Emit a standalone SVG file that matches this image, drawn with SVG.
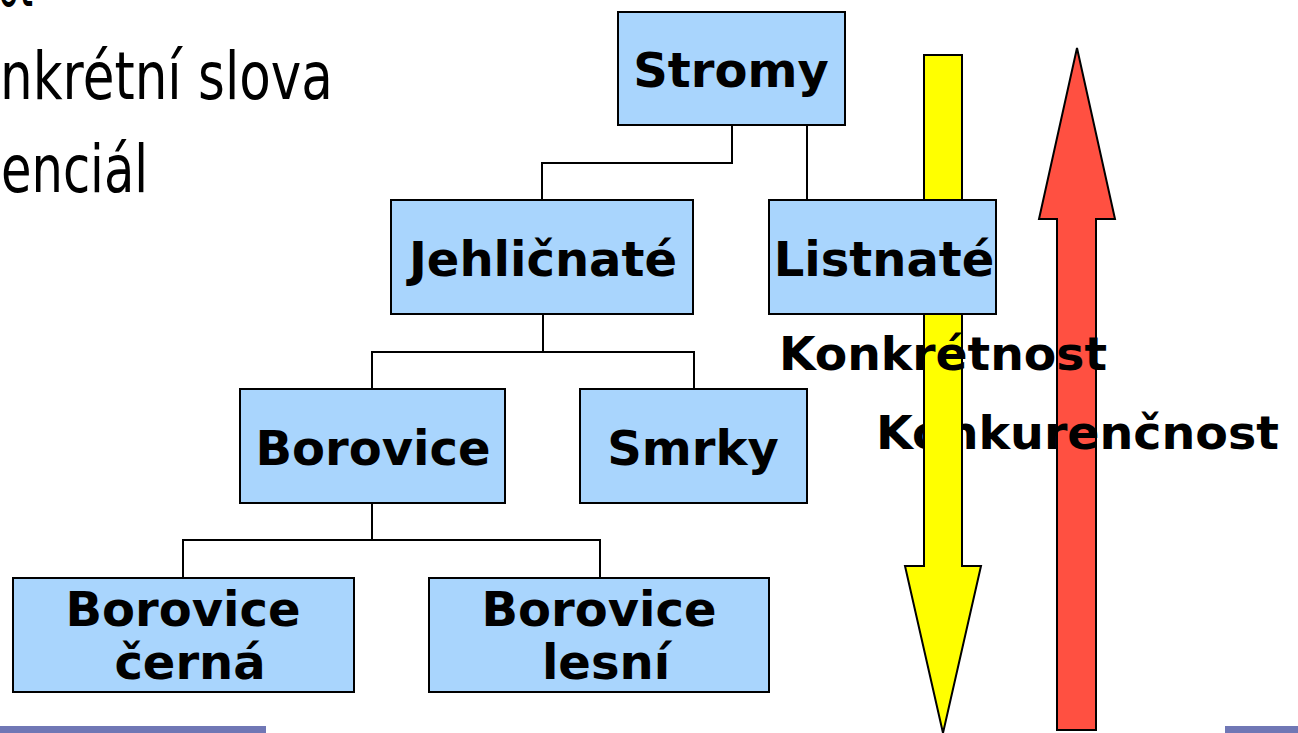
<svg xmlns="http://www.w3.org/2000/svg" width="1298" height="733" viewBox="0 0 1298 733">
<style>
.box{fill:#a9d5fd;stroke:#000;stroke-width:2}
.lbl{font-family:"DejaVu Sans","Verdana",sans-serif;font-weight:bold;font-size:48px;fill:#000;text-anchor:middle}
.body{font-family:"DejaVu Sans",sans-serif;font-size:66px;fill:#000}
.conn{fill:none;stroke:#000;stroke-width:2}
.big{font-family:"DejaVu Sans","Verdana",sans-serif;font-weight:bold;font-size:46px;fill:#000}
.arr{stroke:#000;stroke-width:2;stroke-linejoin:miter}
</style>
<rect width="1298" height="733" fill="#fff"/>
<g id="bullets">
<text class="body" x="-2" y="6" textLength="35" lengthAdjust="spacingAndGlyphs">ot</text>
<text class="body" x="0" y="99" textLength="333" lengthAdjust="spacingAndGlyphs">nkrétní slova</text>
<text class="body" x="1" y="192" textLength="147" lengthAdjust="spacingAndGlyphs">enciál</text>
</g>
<rect x="0" y="726" width="266" height="7" fill="#7077b5"/>
<rect x="1225" y="726" width="73" height="7" fill="#7077b5"/>
<g id="arrow-konkurencnost">
<polygon class="arr" points="1077,48 1115,219 1096,219 1096,730 1057,730 1057,219 1039,219" fill="#ff5041"/>
</g>
<text class="big" x="876" y="449" textLength="403" lengthAdjust="spacingAndGlyphs">Konkurenčnost</text>
<g id="arrow-konkretnost">
<polygon class="arr" points="924,55 962,55 962,566 981,566 943,733 905,566 924,566" fill="#ffff00"/>
</g>
<g id="connectors">
<path class="conn" d="M732,125 V163 H542 V200"/>
<path class="conn" d="M807,125 V200"/>
<path class="conn" d="M543,314 V352 M372,389 V352 H694 V389"/>
<path class="conn" d="M372,503 V540 M183,578 V540 H600 V578"/>
</g>
<g id="node-stromy">
<rect class="box" x="618" y="12" width="227" height="113"/>
<text class="lbl" x="731" y="87">Stromy</text>
</g>
<g id="node-jehlicnate">
<rect class="box" x="391" y="200" width="302" height="114"/>
<text class="lbl" x="543" y="276">Jehličnaté</text>
</g>
<g id="node-listnate">
<rect class="box" x="769" y="200" width="227" height="114"/>
<text class="lbl" x="884" y="276">Listnaté</text>
</g>
<g id="node-borovice">
<rect class="box" x="240" y="389" width="265" height="114"/>
<text class="lbl" x="373" y="465">Borovice</text>
</g>
<g id="node-smrky">
<rect class="box" x="580" y="389" width="227" height="114"/>
<text class="lbl" x="693" y="465">Smrky</text>
</g>
<g id="node-borovice-cerna">
<rect class="box" x="13" y="578" width="341" height="114"/>
<text class="lbl" x="183" y="626">Borovice</text>
<text class="lbl" x="190" y="679">černá</text>
</g>
<g id="node-borovice-lesni">
<rect class="box" x="429" y="578" width="340" height="114"/>
<text class="lbl" x="599" y="626">Borovice</text>
<text class="lbl" x="606" y="679">lesní</text>
</g>
<text class="big" x="779" y="370" textLength="328" lengthAdjust="spacingAndGlyphs">Konkrétnost</text>
</svg>
